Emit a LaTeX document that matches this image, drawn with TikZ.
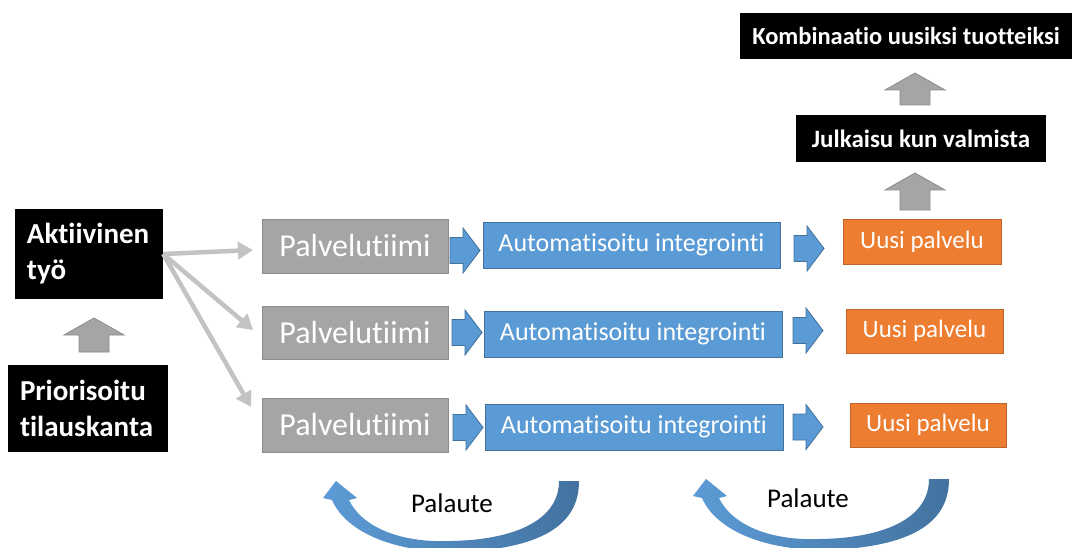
\documentclass[tikz,border=0pt]{standalone}
\usepackage{fontspec}
\setmainfont[RawFeature={-liga;-clig;-dlig;-calt}]{Carlito}
\usetikzlibrary{arrows.meta}

\definecolor{boxgray}{HTML}{A5A5A5}
\definecolor{boxgrayline}{HTML}{8C8C8C}
\definecolor{boxblue}{HTML}{5B9BD5}
\definecolor{boxblueline}{HTML}{41719C}
\definecolor{boxorange}{HTML}{ED7D31}
\definecolor{boxorangeline}{HTML}{C0652A}
\definecolor{connline}{HTML}{C3C3C3}
\definecolor{loopblue}{HTML}{5C9BD6}
\definecolor{loopbluedark}{HTML}{43729F}

\tikzset{
  blackbox/.style={fill=black, draw=none, inner sep=0pt, text=white},
  teambox/.style={fill=boxgray, draw=boxgrayline, line width=0.8pt, inner sep=0pt,
                  text=white, font=\fontsize{32}{36}\selectfont},
  intbox/.style={fill=boxblue, draw=boxblueline, line width=0.8pt, inner sep=0pt,
                 text=white, font=\fontsize{26}{28}\selectfont},
  servbox/.style={fill=boxorange, draw=boxorangeline, line width=0.8pt, inner sep=0pt,
                  text=white, font=\fontsize{25}{28}\selectfont},
  conn/.style={draw=connline, line width=4.5pt,
               -{Triangle[length=15pt,width=17pt]}},
  upstyle/.style={fill=boxgray, draw=boxgrayline, line width=0.8pt},
  blockstyle/.style={fill=boxblue, draw=boxblueline, line width=0.8pt},
  % block arrow pointing right, origin at the middle of its tail
  rarrow/.pic={\path[blockstyle] (0,-13) -- (13,-13) -- (13,-22.5) -- (30,0)
                 -- (13,22.5) -- (13,13) -- (0,13) -- cycle;},
  % block arrow pointing up, origin at its tip, #1 = total length
  uparrow/.pic={\path[upstyle] (0,0) -- (30,17) -- (15,17) -- (15,#1)
                 -- (-15,#1) -- (-15,17) -- (-30,17) -- cycle;},
  % curved feedback arrow
  loop/.pic={\shade[left color=loopblue, right color=loopbluedark]
      (559,481) -- (579,481) .. controls (579,520) and (550,548) .. (460,552)
      .. controls (390,553) and (345,530) .. (332,500)
      -- (323,498) -- (336,481) -- (357,498) -- (349,500)
      .. controls (362,527) and (400,543) .. (450,541)
      .. controls (515,540) and (559,520) .. (559,481) -- cycle;},
  looptext/.style={text=black, inner sep=0pt, font=\fontsize{27}{30}\selectfont}
}

\begin{document}
\begin{tikzpicture}[x=1pt, y=-1pt]
\useasboundingbox[fill=white] (0,0) rectangle (1078,548);

% backlog and active work
\node[blackbox, minimum width=148pt, minimum height=90pt, text width=124pt, align=left,
      font=\bfseries\fontsize{29}{36}\selectfont] (akt) at (89,254) {Aktiivinen\\työ};
\node[blackbox, minimum width=160pt, minimum height=87pt, text width=136pt, align=left,
      font=\bfseries\fontsize{29}{36}\selectfont] (prio) at (88,408.5) {Priorisoitu\\tilauskanta};
\pic at (94,318) {uparrow=34};

% release chain
\node[blackbox, minimum width=332pt, minimum height=46pt,
      font=\bfseries\fontsize{24.5}{26}\selectfont] (komb) at (906,36) {Kombinaatio uusiksi tuotteiksi};
\node[blackbox, minimum width=250pt, minimum height=47pt,
      font=\bfseries\fontsize{25}{26}\selectfont] (julk) at (921,138.5) {Julkaisu kun valmista};
\pic at (915,73) {uparrow=32};
\pic at (915,173) {uparrow=37};

% service teams
\node[teambox, minimum width=186pt, minimum height=54pt] (p1) at (355,246) {Palvelutiimi};
\node[teambox, minimum width=186pt, minimum height=53pt] (p2) at (355,332.5) {Palvelutiimi};
\node[teambox, minimum width=186pt, minimum height=54pt] (p3) at (355,425) {Palvelutiimi};

\node[intbox, minimum width=297pt, minimum height=46pt] (i1) at (631.5,245) {Automatisoitu integrointi};
\node[intbox, minimum width=298pt, minimum height=46pt] (i2) at (633,334) {Automatisoitu integrointi};
\node[intbox, minimum width=298pt, minimum height=46pt] (i3) at (634,427) {Automatisoitu integrointi};

\node[servbox, minimum width=158pt, minimum height=45pt] (u1) at (922,241.5) {Uusi palvelu};
\node[servbox, minimum width=157pt, minimum height=44pt] (u2) at (924.5,331) {Uusi palvelu};
\node[servbox, minimum width=156pt, minimum height=44pt] (u3) at (928,425) {Uusi palvelu};

\pic at (450,250.5) {rarrow};
\pic at (452,332.5) {rarrow};
\pic at (453,427.5) {rarrow};
\pic at (794,248.5) {rarrow};
\pic at (793,330.5) {rarrow};
\pic at (793,427) {rarrow};

% work distribution
\coordinate (t1) at (253,250);
\coordinate (t2) at (253,330);
\coordinate (t3) at (251,407);
\draw[conn] (akt.east) -- (t1);
\draw[conn] (akt.east) -- (t2);
\draw[conn] (akt.east) -- (t3);

% feedback loops
\pic at (0,0) {loop};
\pic at (370,-2) {loop};
\node[looptext] (fb1) at (452,503) {Palaute};
\node[looptext] (fb2) at (808,498) {Palaute};
\end{tikzpicture}
\end{document}
